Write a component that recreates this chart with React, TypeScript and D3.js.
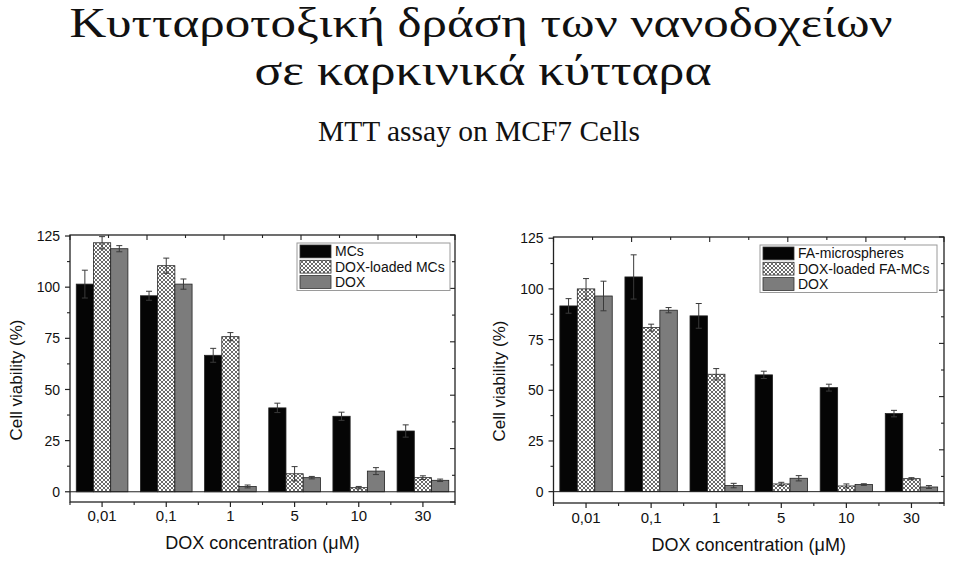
import React from "react";
import * as d3 from "d3";

const categories = ["0,01", "0,1", "1", "5", "10", "30"];

const leftSeries = ["MCs", "DOX-loaded MCs", "DOX"];
const leftMCs = [101.5, 95.8, 66.7, 41.0, 36.9, 29.7];
const leftMCsErr = [6.8, 2.2, 3.4, 2.3, 2.0, 3.0];
const leftDoxMCs = [121.7, 110.5, 75.8, 8.8, 2.0, 6.9];
const leftDoxMCsErr = [3.0, 3.7, 2.0, 3.5, 0.6, 0.9];
const leftDox = [118.8, 101.5, 2.6, 6.9, 10.1, 5.6];
const leftDoxErr = [1.5, 2.5, 0.7, 0.6, 1.7, 0.6];

const rightSeries = ["FA-microspheres", "DOX-loaded FA-MCs", "DOX"];
const rightFA = [91.6, 105.9, 86.7, 57.6, 51.3, 38.5];
const rightFAErr = [3.6, 10.9, 6.1, 1.8, 1.7, 1.6];
const rightDoxFA = [100.0, 80.9, 57.9, 3.8, 2.8, 6.4];
const rightDoxFAErr = [5.1, 1.7, 2.8, 0.8, 1.0, 0.5];
const rightDox = [96.5, 89.5, 3.0, 6.6, 3.5, 2.3];
const rightDoxErr = [7.3, 1.3, 1.1, 1.3, 0.4, 0.7];

const yTicks = [0, 25, 50, 75, 100, 125];
const yMinorTicks = [12.5, 37.5, 62.5, 87.5, 112.5];

const titleLine1 = "Κυτταροτοξική δράση των νανοδοχείων";
const titleLine2 = "σε καρκινικά κύτταρα";
const subtitle = "MTT assay on MCF7 Cells";
const xTitle = "DOX concentration (μM)";
const yTitle = "Cell viability (%)";

const SANS = "'Liberation Sans', Arial, sans-serif";
const SERIF = "'Liberation Serif', 'Times New Roman', serif";
const FILLS = ["#050505", "url(#hatch)", "#7c7c7c"];
const AXIS = "#222";

type Geo = {
  left: number; right: number; top: number; bottom: number;
  yMin: number; yMax: number;
  yTitleX: number; yTitleY: number; xLabelY: number; xTitleY: number;
  legend: { x0: number; x1: number; y0: number; y1: number; step: number };
};

function Chart({ geo, names, values, errors }: { geo: Geo; names: string[]; values: number[][]; errors: number[][] }) {
  const x = d3.scaleBand<string>().domain(categories).range([geo.left, geo.right]).paddingInner(0).paddingOuter(0);
  const inner = d3.scaleBand<number>().domain([0, 1, 2]).range([0, x.bandwidth() * 0.805]);
  const groupOff = (x.bandwidth() - x.bandwidth() * 0.805) / 2;
  const y = d3.scaleLinear().domain([geo.yMin, geo.yMax]).range([geo.bottom, geo.top]);
  const mirrorX = d3.range(11).map((i) => geo.left + ((geo.right - geo.left) * i) / 10);
  const mirrorY = d3.range(11).map((i) => geo.bottom - ((geo.bottom - geo.top) * i) / 10);
  const boundaries = d3.range(categories.length + 1).map((i) => geo.left + i * x.bandwidth());
  const lg = geo.legend;
  return (
    <g>
      {values.map((series, s) =>
        series.map((v, i) => {
          const bx = (x(categories[i]) as number) + groupOff + (inner(s) as number);
          const bw = inner.bandwidth();
          return (
            <rect key={`b${s}-${i}`} x={bx} y={y(v)} width={bw} height={y(0) - y(v)}
              fill={FILLS[s]} stroke="#222" strokeWidth={0.8} />
          );
        })
      )}
      {values.map((series, s) =>
        series.map((v, i) => {
          const cx = (x(categories[i]) as number) + groupOff + (inner(s) as number) + inner.bandwidth() / 2;
          const e = errors[s][i];
          return (
            <g key={`e${s}-${i}`} stroke="#3a3a3a" strokeWidth={1}>
              <line x1={cx} x2={cx} y1={y(v - e)} y2={y(v + e)} />
              <line x1={cx - 3} x2={cx + 3} y1={y(v + e)} y2={y(v + e)} />
              <line x1={cx - 3} x2={cx + 3} y1={y(v - e)} y2={y(v - e)} />
            </g>
          );
        })
      )}
      <line x1={geo.left} x2={geo.right} y1={y(0)} y2={y(0)} stroke={AXIS} strokeWidth={1} />
      <rect x={geo.left} y={geo.top} width={geo.right - geo.left} height={geo.bottom - geo.top}
        fill="none" stroke={AXIS} strokeWidth={1.3} />
      {yTicks.map((t) => (
        <g key={`yt${t}`}>
          <line x1={geo.left - 5} x2={geo.left} y1={y(t)} y2={y(t)} stroke={AXIS} strokeWidth={1.2} />
          <text x={geo.left - 10} y={y(t)} dy="0.36em" textAnchor="end" fontFamily={SANS} fontSize={14} fill="#111">{t}</text>
        </g>
      ))}
      {yMinorTicks.map((t) => (
        <line key={`ym${t}`} x1={geo.left - 3} x2={geo.left} y1={y(t)} y2={y(t)} stroke={AXIS} strokeWidth={1.1} />
      ))}
      {categories.map((c) => {
        const cx = (x(c) as number) + x.bandwidth() / 2;
        return (
          <g key={`xt${c}`}>
            <line x1={cx} x2={cx} y1={geo.bottom} y2={geo.bottom + 5} stroke={AXIS} strokeWidth={1.2} />
            <text x={cx} y={geo.xLabelY} textAnchor="middle" fontFamily={SANS} fontSize={15} fill="#111">{c}</text>
          </g>
        );
      })}
      {boundaries.map((bx, i) => (
        <line key={`xm${i}`} x1={bx} x2={bx} y1={geo.bottom} y2={geo.bottom + 3} stroke={AXIS} strokeWidth={1.1} />
      ))}
      {mirrorX.map((mx, i) => (
        <line key={`mt${i}`} x1={mx} x2={mx} y1={geo.top} y2={geo.top + (i % 2 === 0 ? 5 : 3)} stroke={AXIS} strokeWidth={1.1} />
      ))}
      {mirrorY.map((my, i) => (
        <line key={`mr${i}`} x1={geo.right} x2={geo.right - (i % 2 === 0 ? 5 : 3)} y1={my} y2={my} stroke={AXIS} strokeWidth={1.1} />
      ))}
      <text x={(geo.left + geo.right) / 2} y={geo.xTitleY} textAnchor="middle" fontFamily={SANS} fontSize={18} fill="#111">{xTitle}</text>
      <text transform={`translate(${geo.yTitleX},${geo.yTitleY}) rotate(-90)`} textAnchor="middle" fontFamily={SANS} fontSize={17} fill="#111">{yTitle}</text>
      <rect x={lg.x0} y={lg.y0} width={lg.x1 - lg.x0} height={lg.y1 - lg.y0} fill="#fff" stroke="#9a9a9a" strokeWidth={1} />
      {names.map((n, s) => {
        const ry = lg.y0 + 2 + s * lg.step;
        return (
          <g key={`lg${s}`}>
            <rect x={lg.x0 + 3} y={ry} width={31} height={lg.step - 2.5} fill={FILLS[s]} stroke="#333" strokeWidth={0.8} />
            <text x={lg.x0 + 38} y={ry + (lg.step - 2.5) / 2} dy="0.36em" fontFamily={SANS} fontSize={14} fill="#111">{n}</text>
          </g>
        );
      })}
    </g>
  );
}

const leftGeo: Geo = {
  left: 70, right: 455, top: 235, bottom: 502, yMin: -5, yMax: 125.5,
  yTitleX: 22, yTitleY: 380, xLabelY: 521, xTitleY: 549,
  legend: { x0: 297, x1: 450, y0: 243, y1: 290.5, step: 15.3 },
};
const rightGeo: Geo = {
  left: 553.5, right: 944, top: 237, bottom: 503, yMin: -5.6, yMax: 125.6,
  yTitleX: 505, yTitleY: 381, xLabelY: 523, xTitleY: 551,
  legend: { x0: 760, x1: 937, y0: 245, y1: 292.5, step: 15.3 },
};

export default function App() {
  return (
    <svg width={960} height={562} viewBox="0 0 960 562"
      style={{ position: "absolute", left: 0, top: 0, background: "#fff" }}>
      <defs>
        <pattern id="hatch" width={4} height={4} patternUnits="userSpaceOnUse">
          <rect width={4} height={4} fill="#fff" />
          <path d="M0,0 L4,4 M4,0 L0,4" stroke="#5a5a5a" strokeWidth={0.9} />
        </pattern>
      </defs>
      <rect width={960} height={562} fill="#fff" />
      <text x={481} y={37} textAnchor="middle" fontFamily={SERIF} fontSize={42} textLength={823} lengthAdjust="spacingAndGlyphs" fill="#111">{titleLine1}</text>
      <text x={483} y={85} textAnchor="middle" fontFamily={SERIF} fontSize={44} textLength={457} lengthAdjust="spacingAndGlyphs" fill="#111">{titleLine2}</text>
      <text x={479} y={141} textAnchor="middle" fontFamily={SERIF} fontSize={29} textLength={322} lengthAdjust="spacingAndGlyphs" fill="#111">{subtitle}</text>
      <Chart geo={leftGeo} names={leftSeries}
        values={[leftMCs, leftDoxMCs, leftDox]} errors={[leftMCsErr, leftDoxMCsErr, leftDoxErr]} />
      <Chart geo={rightGeo} names={rightSeries}
        values={[rightFA, rightDoxFA, rightDox]} errors={[rightFAErr, rightDoxFAErr, rightDoxErr]} />
    </svg>
  );
}
